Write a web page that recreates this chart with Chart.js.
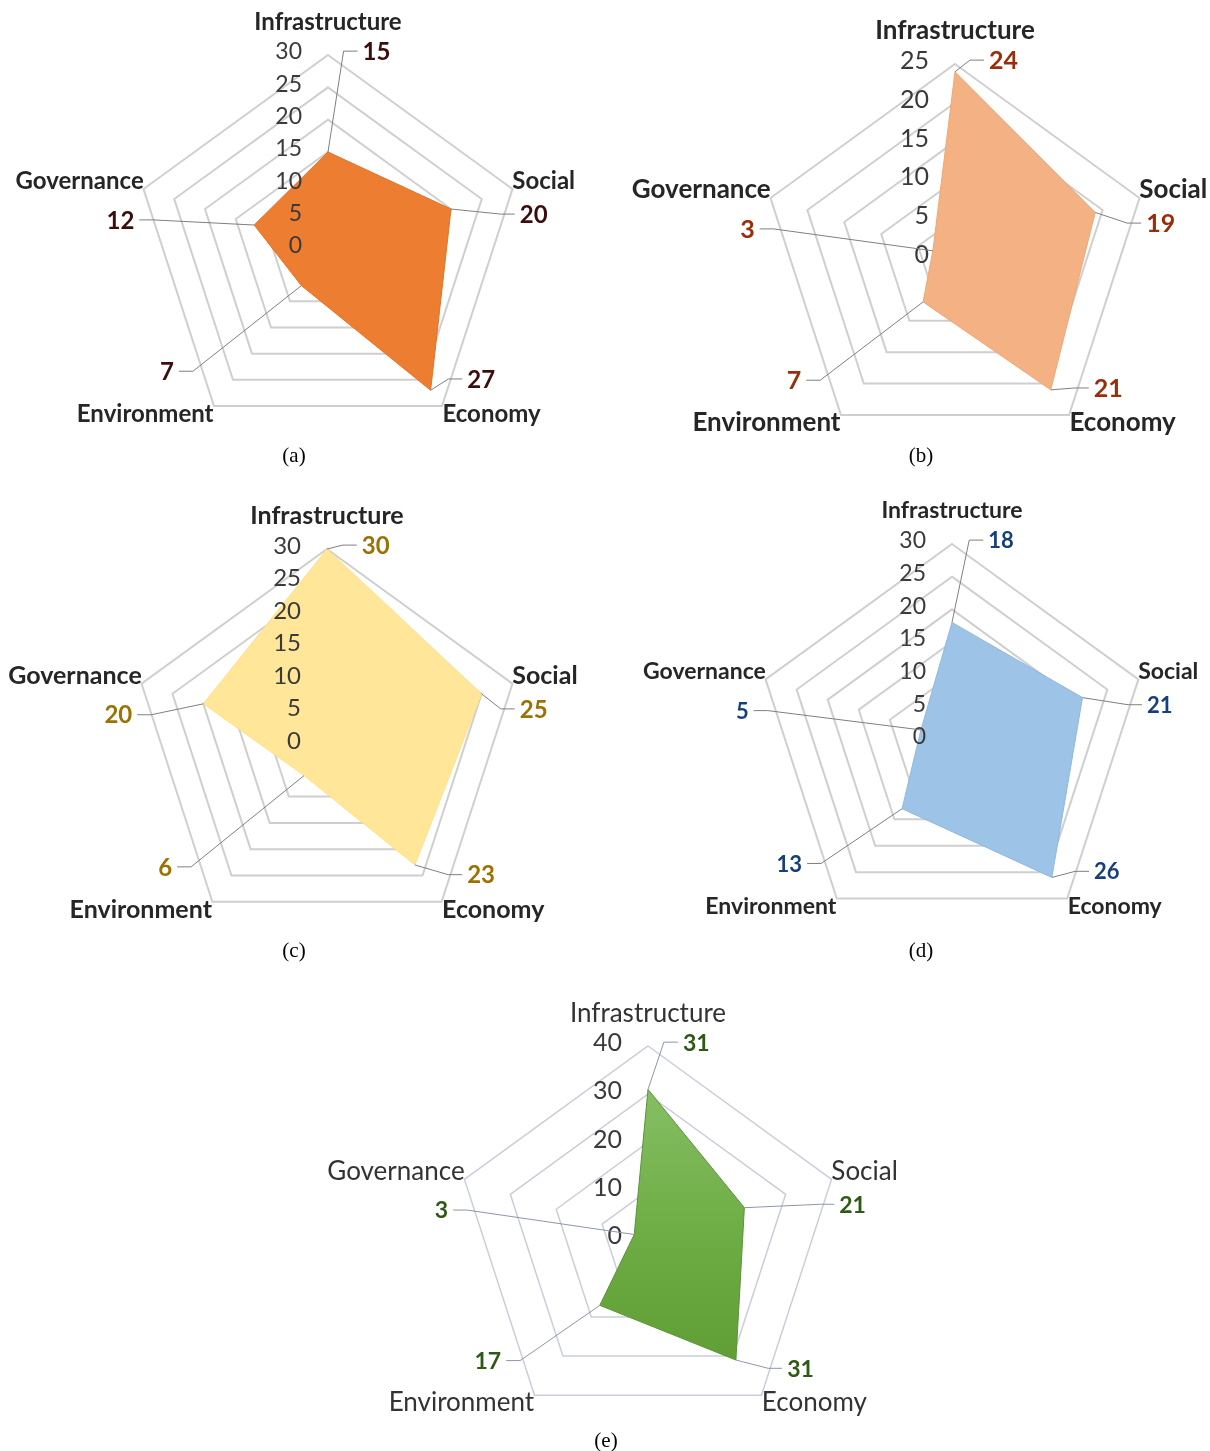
<!DOCTYPE html>
<html>
<head>
<meta charset="utf-8">
<script src="https://cdn.jsdelivr.net/npm/chart.js@4.4.1/dist/chart.umd.min.js"></script>
<style>
  body { margin: 0; background: #fff; width: 1210px; height: 1451px; position: relative; overflow: hidden; }
  canvas { position: absolute; }
  .cap { position: absolute; width: 60px; margin-left: -30px; text-align: center;
         font-family: "Liberation Serif", "Times New Roman", serif; font-size: 21px; color: #000; }
</style>
</head>
<body>
<canvas id="ca" width="605" height="470" style="left:0px;top:0px"></canvas>
<canvas id="cb" width="605" height="470" style="left:605px;top:0px"></canvas>
<canvas id="cc" width="605" height="470" style="left:0px;top:490px"></canvas>
<canvas id="cd" width="605" height="470" style="left:605px;top:490px"></canvas>
<canvas id="ce" width="610" height="466" style="left:300px;top:985px"></canvas>
<div class="cap" style="left:294px;top:443px">(a)</div>
<div class="cap" style="left:921px;top:443px">(b)</div>
<div class="cap" style="left:294px;top:938px">(c)</div>
<div class="cap" style="left:921px;top:938px">(d)</div>
<div class="cap" style="left:606px;top:1428px">(e)</div>
<script>
// axes, clockwise from the top
const categories = ['Infrastructure', 'Social', 'Economy', 'Environment', 'Governance'];

const valuesA = [15, 20, 27, 7, 12];
const valuesB = [24, 19, 21, 7, 3];
const valuesC = [30, 25, 23, 6, 20];
const valuesD = [18, 21, 26, 13, 5];
const valuesE = [31, 21, 31, 17, 3];

const maxA = 30, maxB = 25, maxC = 30, maxD = 30, maxE = 40;
const stepA = 5, stepB = 5, stepC = 5, stepD = 5, stepE = 10;

// where the value labels sit, in units of the radius (x, y from centre)
const valueLabelPos = [[0.25, -1.02], [1.06, -0.18], [0.79, 0.67], [-0.83, 0.63], [-1.07, -0.15]];

const panels = [
  { id: 'ca', values: valuesA, max: maxA, step: stepA, c: [328, 249], r: 194, w: 605, h: 470,
    fill: '#ed7d31', border: '#e0722a', valColor: '#3d0c0c', grid: '#cfcfcf', bold: true,
    catSize: 24, tickSize: 23, valSize: 24 },
  { id: 'cb', values: valuesB, max: maxB, step: stepB, c: [350, 258], r: 194, w: 605, h: 470,
    fill: '#f4b183', border: '#eea774', valColor: '#9a2e0a', grid: '#cfcfcf', bold: true,
    catSize: 26, tickSize: 25, valSize: 25 },
  { id: 'cc', values: valuesC, max: maxC, step: stepC, c: [327, 254], r: 195, w: 605, h: 470,
    fill: '#ffe699', border: '#ffe08a', valColor: '#9c7204', grid: '#cfcfcf', bold: true,
    catSize: 25, tickSize: 24, valSize: 24 },
  { id: 'cd', values: valuesD, max: maxD, step: stepD, c: [347, 250], r: 196, w: 605, h: 470,
    fill: '#9dc3e6', border: '#8fb8df', valColor: '#173f7d', grid: '#cfcfcf', bold: true,
    catSize: 23, tickSize: 23, valSize: 22 },
  { id: 'ce', values: valuesE, max: maxE, step: stepE, c: [348, 254], r: 193, w: 610, h: 466,
    fill: 'gradient', border: '#5d9138', valColor: '#2f5a16', grid: '#c9ced8', bold: false,
    catSize: 26, tickSize: 25, valSize: 23 }
];

const radarDecor = {
  id: 'radarDecor',
  afterDatasetsDraw(chart, args, opts) {
    const ctx = chart.ctx;
    const scale = chart.scales.r;
    const cx = scale.xCenter, cy = scale.yCenter, R = scale.drawingArea;
    const pts = chart.getDatasetMeta(0).data;
    const vals = chart.data.datasets[0].data;
    ctx.save();

    // tick labels, left of the vertical axis
    ctx.font = opts.tickSize + 'px Lato';
    ctx.fillStyle = '#3a3a3a';
    ctx.textAlign = 'right';
    ctx.textBaseline = 'middle';
    scale.ticks.forEach(t => {
      const y = cy - scale.getDistanceFromCenterForValue(t.value);
      ctx.fillText(String(t.value), cx - 26, y - 3);
    });

    // value labels with leader lines
    ctx.font = 'bold ' + opts.valSize + 'px Lato';
    ctx.textBaseline = 'middle';
    ctx.strokeStyle = opts.leader;
    ctx.lineWidth = 1;
    vals.forEach((v, i) => {
      const lx = cx + valueLabelPos[i][0] * R;
      const ly = cy + valueLabelPos[i][1] * R;
      const tw = ctx.measureText(String(v)).width;
      const right = valueLabelPos[i][0] > 0;
      const edge = right ? lx - tw / 2 - 5 : lx + tw / 2 + 5;
      const elbow = right ? edge - 14 : edge + 14;
      ctx.beginPath();
      ctx.moveTo(pts[i].x, pts[i].y);
      ctx.lineTo(elbow, ly);
      ctx.lineTo(edge, ly);
      ctx.stroke();
      ctx.fillStyle = opts.valColor;
      ctx.textAlign = 'center';
      ctx.fillText(String(v), lx, ly + 1);
    });

    // category labels
    ctx.font = (opts.bold ? 'bold ' : '') + opts.catSize + 'px Lato';
    ctx.fillStyle = opts.bold ? '#262626' : '#333333';
    const catPos = [
      [0, -1.17, 'center'], [0.95, -0.35, 'left'], [0.59, 0.85, 'left'],
      [-0.59, 0.85, 'right'], [-0.95, -0.35, 'right']
    ];
    chart.data.labels.forEach((lab, i) => {
      ctx.textAlign = catPos[i][2];
      ctx.fillText(lab, cx + catPos[i][0] * R, cy + catPos[i][1] * R);
    });
    ctx.restore();
  }
};

function greenFill(context) {
  const chart = context.chart;
  const area = chart.chartArea;
  if (!area) return '#70ad47';
  const g = chart.ctx.createLinearGradient(0, area.top, 0, area.bottom);
  g.addColorStop(0, '#8cc46c');
  g.addColorStop(0.55, '#6aaa40');
  g.addColorStop(1, '#5a962f');
  return g;
}

panels.forEach(p => {
  const ctx = document.getElementById(p.id).getContext('2d');
  const lx = p.c[0], ly = p.c[1], R = p.r;
  new Chart(ctx, {
    type: 'radar',
    data: {
      labels: categories,
      datasets: [{
        data: p.values,
        backgroundColor: p.fill === 'gradient' ? greenFill : p.fill,
        borderColor: p.border,
        borderWidth: 1,
        pointRadius: 0,
        fill: true
      }]
    },
    options: {
      responsive: false,
      animation: false,
      devicePixelRatio: 1,
      layout: { padding: { left: lx - R, right: p.w - lx - R, top: ly - R, bottom: p.h - ly - R } },
      scales: {
        r: {
          min: 0,
          max: p.max,
          ticks: { display: false, stepSize: p.step },
          pointLabels: { display: false },
          angleLines: { display: false },
          grid: { color: p.grid, lineWidth: p.bold ? 2 : 1.5 }
        }
      },
      plugins: {
        legend: { display: false },
        tooltip: { enabled: false },
        radarDecor: {
          valColor: p.valColor,
          leader: p.bold ? '#7f7f7f' : '#8d96a8',
          bold: p.bold,
          catSize: p.catSize,
          tickSize: p.tickSize,
          valSize: p.valSize
        }
      }
    },
    plugins: [radarDecor]
  });
});
</script>
</body>
</html>
